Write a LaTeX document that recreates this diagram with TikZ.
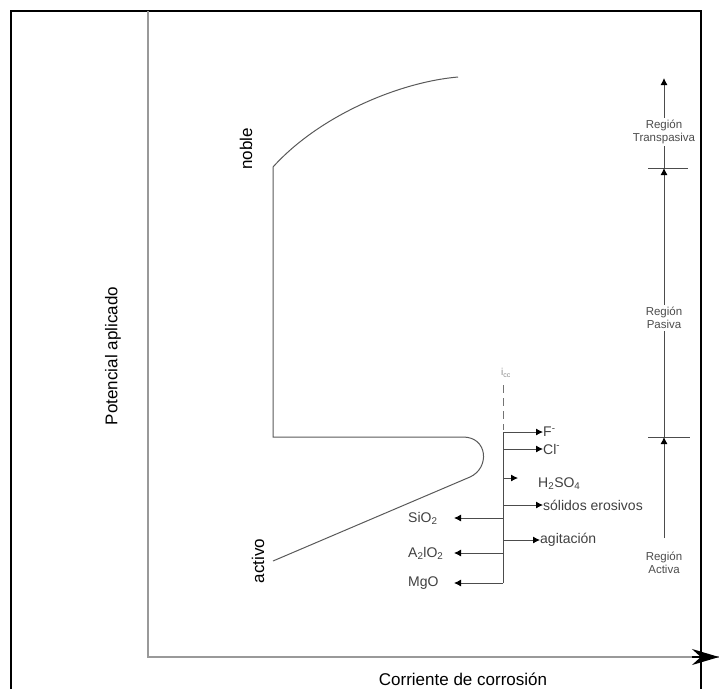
\documentclass[tikz,border=0pt]{standalone}
\usepackage{fontspec}
\setmainfont{Liberation Sans}
\usepackage{tikz}
\usetikzlibrary{arrows.meta, positioning, calc}

\begin{document}
\begin{tikzpicture}[x=1pt, y=-1pt,
  every node/.style={inner sep=0pt},
  big/.style={font=\fontsize{17}{19}\selectfont, text=black},
  lab/.style={font=\fontsize{14}{16}\selectfont, text=black!75},
  reg/.style={font=\fontsize{11.5}{13}\selectfont, text=black!70, align=center, fill=white, inner sep=2pt},
  curve/.style={draw=black!65, line width=1pt},
  arr/.style={draw=black!70, line width=0.9pt, -{Latex[length=7pt,width=7pt,black]}}]

    \useasboundingbox (0,0) rectangle (719,689);

    %//frame and axes
    \draw [line width=2pt] (11,689) -- (11,11) -- (701,11) -- (701,689);
    \coordinate (ytop) at (148,11);
    \coordinate (O) at (148,657);
    \coordinate (xend) at (719,657);
    \draw [black!40, line width=1.6pt] (ytop) -- (O) -- (xend);
    \draw [line width=1.6pt, -{Stealth[length=27pt,width=16pt]}] (692,657) -- (xend);

    \node [big, rotate=90] (pot) at (113,356) {Potencial aplicado};
    \node [big] (corr) at (463,679) {Corriente de corrosión};

    %//polarization curve
    \coordinate (act) at (273,561);
    \coordinate (nb) at (470,477);
    \coordinate (nt) at (463,437);
    \coordinate (pb) at (273,437);
    \coordinate (pt) at (273,167);
    \coordinate (tr) at (458,77);
    \draw [curve] (act) -- (nb) .. controls (490,468) and (488,437) .. (nt) -- (pb) -- (pt)
        .. controls (320,115) and (400,82) .. (tr);

    \node [big, rotate=90] (noble) at (246,149) {noble};
    \node [big, rotate=90] (activo) at (258,561) {activo};

    %//icc line and species
    \node [font=\fontsize{10}{11}\selectfont, text=black!45] (icc) at (506,373) {i\textsubscript{cc}};
    \coordinate (d1) at (503,385);
    \coordinate (d2) at (503,430);
    \draw [black!55, line width=1pt, dash pattern=on 8pt off 5pt] (d1) -- (d2);
    \coordinate (ttop) at (503,432);
    \coordinate (tbot) at (503,583);
    \draw [black!70, line width=1pt] (ttop) -- (tbot);

    \foreach \y/\n/\t in {432/f/F\textsuperscript{-}, 449/cl/Cl\textsuperscript{-}, 505/sol/sólidos erosivos}
    {
    \coordinate (s\n) at (503,\y);
    \node [lab, anchor=west] (l\n) at (543,\y) {\t};
    \draw [arr] (s\n) -- (l\n.west);
    }

    \coordinate (sh) at (503,478);
    \coordinate (eh) at (518,478);
    \draw [arr] (sh) -- (eh);
    \node [lab, anchor=west] (lh) at (538,484) {H\textsubscript{2}SO\textsubscript{4}};

    \coordinate (sag) at (503,540);
    \node [lab, anchor=west] (lag) at (540,540) {agitación};
    \draw [arr] (sag) -- (lag.west);

    \foreach \y/\n/\t in {518/si/SiO\textsubscript{2}, 553/al/A\textsubscript{2}lO\textsubscript{2}, 583/mg/MgO}
    {
    \coordinate (s\n) at (503,\y);
    \coordinate (e\n) at (454,\y);
    \draw [arr] (s\n) -- (e\n);
    \node [lab, anchor=west] (l\n) at (408,\y) {\t};
    }

    %//regions
    \coordinate (rtop) at (664,78);
    \coordinate (rtp) at (664,168);
    \coordinate (rpa) at (664,437);
    \coordinate (rbot) at (664,538);
    \draw [black!70, line width=0.8pt] (648,168) -- (688,168);
    \draw [black!70, line width=0.8pt] (648,437) -- (690,437);
    \draw [arr] (rtp) -- (rtop);
    \draw [arr] (rpa) -- (rtp);
    \draw [arr] (rbot) -- (rpa);

    \node [reg] (trans) at (664,132) {Región\\Transpasiva};
    \node [reg] (pas) at (664,318) {Región\\Pasiva};
    \node [reg, fill=none] (actv) at (664,563) {Región\\Activa};
\end{tikzpicture}
\end{document}
